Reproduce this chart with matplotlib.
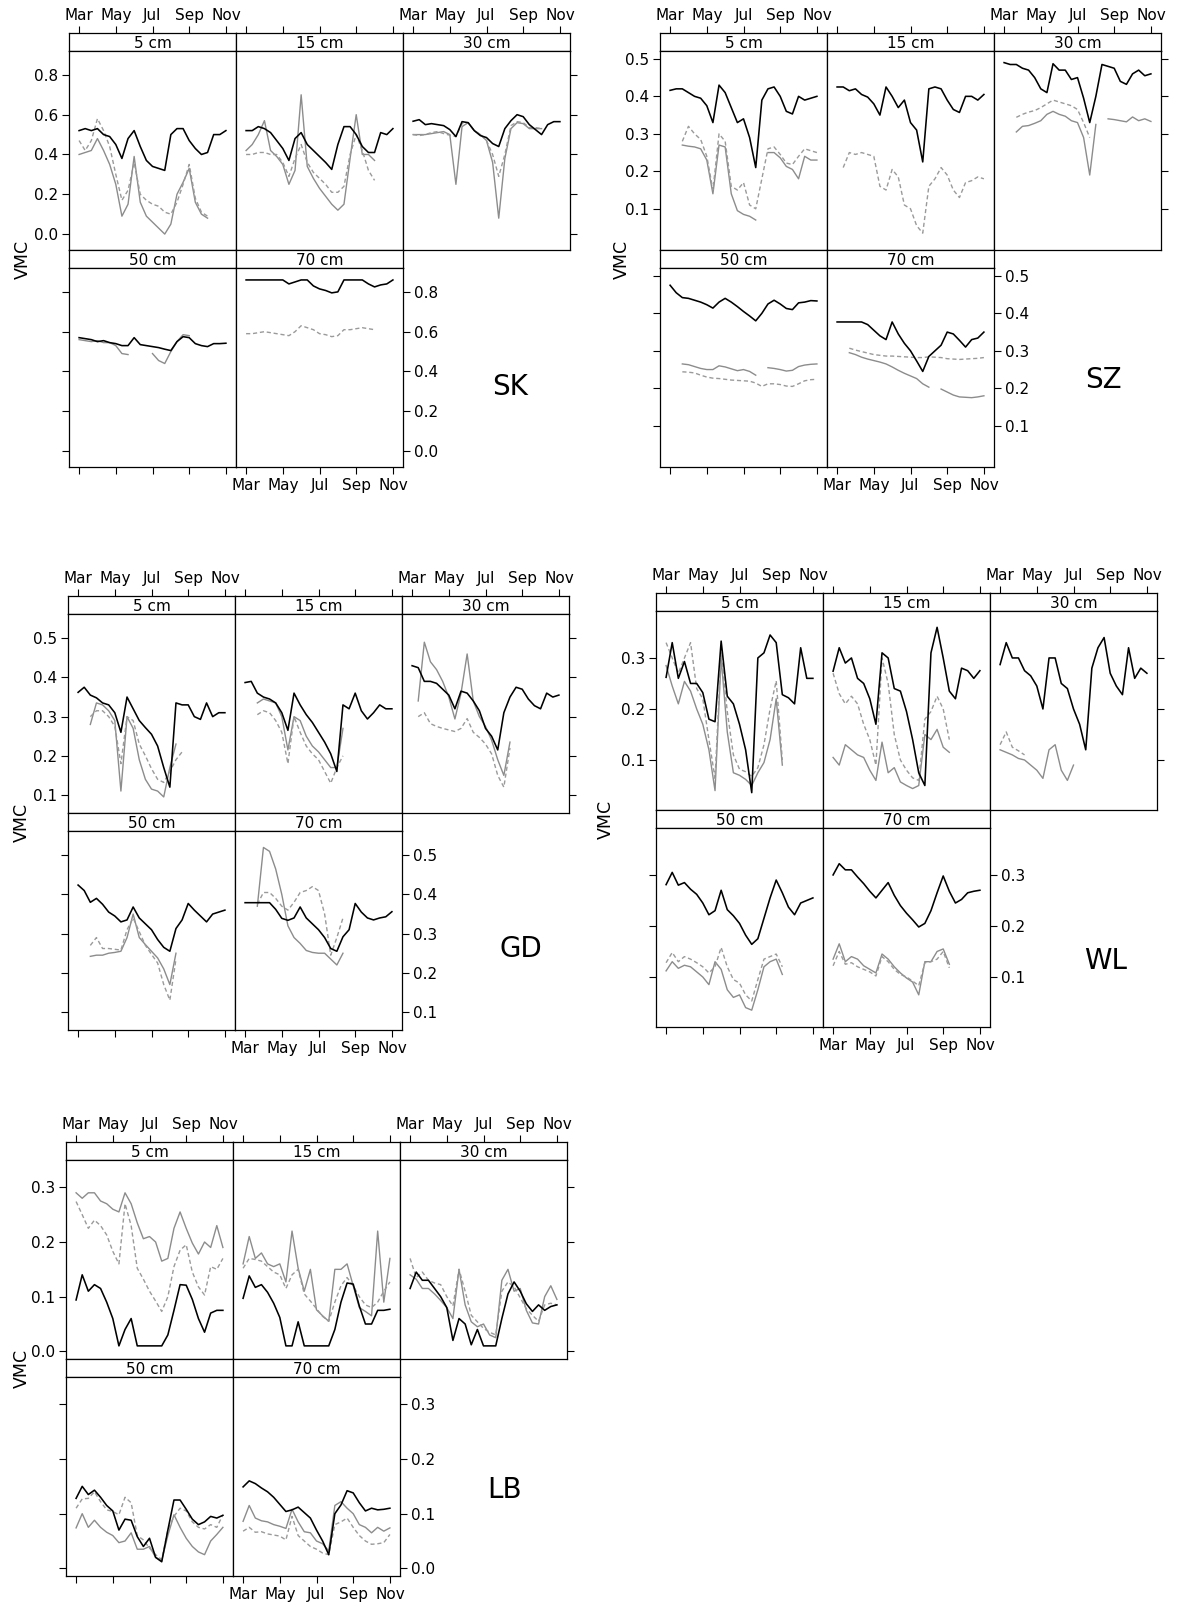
import numpy as np
import matplotlib.pyplot as plt

N = np.nan

# sampling grid: every ~10 days from 1 Mar to 1 Nov (months since 1 Mar)
t = np.arange(25) / 3.0
month_ticks = [0, 2, 4, 6, 8]
month_labels = ['Mar', 'May', 'Jul', 'Sep', 'Nov']
depths = ['5 cm', '15 cm', '30 cm', '50 cm', '70 cm']
sites = ['SK', 'SZ', 'GD', 'WL', 'LB']

# ---- SK ----
sk5_blk = [0.52,0.53,0.52,0.53,0.50, 0.49,0.45,0.38,0.48,0.52, 0.44,0.37,0.34,0.33,0.32, 0.50,0.53,0.53,0.47,0.43, 0.40,0.41,0.50,0.50,0.52]
sk5_gry = [0.40,0.41,0.42,0.48,0.42, 0.35,0.25,0.09,0.15,0.39, 0.16,0.09,0.06,0.03,0.00, 0.05,0.20,0.26,0.33,0.16, 0.10,0.08,N,N,N]
sk5_dsh = [0.47,0.42,0.47,0.58,0.52, 0.44,0.30,0.17,0.22,0.36, 0.20,0.17,0.15,0.14,0.11, 0.10,0.16,0.25,0.35,0.18, 0.11,0.09,N,N,N]
sk15_blk = [0.52,0.52,0.54,0.53,0.51, 0.47,0.43,0.37,0.48,0.51, 0.45,0.42,0.39,0.36,0.325, 0.45,0.54,0.54,0.50,0.44, 0.41,0.41,0.51,0.50,0.53]
sk15_gry = [0.42,0.45,0.50,0.57,0.42, 0.39,0.35,0.25,0.32,0.70, 0.34,0.28,0.23,0.19,0.15, 0.12,0.15,0.38,0.60,0.40, 0.40,0.37,N,N,N]
sk15_dsh = [0.40,0.40,0.41,0.41,0.40, 0.40,0.36,0.29,0.38,0.45, 0.36,0.31,0.28,0.25,0.21, 0.21,0.24,0.40,0.50,0.42, 0.32,0.27,N,N,N]
sk30_blk = [0.567,0.575,0.55,0.555,0.55, 0.545,0.525,0.49,0.565,0.56, 0.52,0.495,0.485,0.455,0.44, 0.53,0.57,0.60,0.59,0.55, 0.525,0.50,0.55,0.565,0.565]
sk30_gry = [0.50,0.50,0.50,0.505,0.51, 0.515,0.50,0.25,0.54,0.56, 0.52,0.50,0.47,0.36,0.08, 0.38,0.53,0.56,0.555,0.53, 0.53,0.53,N,N,N]
sk30_dsh = [0.50,0.495,0.50,0.51,0.515, 0.505,0.497,0.49,0.555,0.56, 0.52,0.50,0.47,0.40,0.29, 0.40,0.545,0.565,0.56,0.535, 0.535,0.53,N,N,N]
sk50_blk = [0.57,0.565,0.56,0.55,0.555, 0.545,0.54,0.53,0.53,0.57, 0.535,0.53,0.525,0.52,0.512, 0.505,0.55,0.575,0.57,0.54, 0.53,0.525,0.54,0.54,0.542]
sk50_gry = [0.56,0.555,0.55,0.555,0.545, 0.545,0.53,0.49,0.485,N, N,N,0.49,0.455,0.44, 0.50,0.55,0.585,0.58,N, N,N,N,N,N]
sk70_blk = [0.86,0.86,0.86,0.86,0.86, 0.86,0.86,0.84,0.85,0.86, 0.86,0.83,0.815,0.807,0.795, 0.80,0.86,0.86,0.86,0.86, 0.84,0.825,0.835,0.84,0.86]
sk70_dsh = [0.59,0.59,0.595,0.60,0.595, 0.59,0.585,0.58,0.60,0.63, 0.62,0.61,0.59,0.585,0.575, 0.58,0.61,0.61,0.615,0.62, 0.615,0.61,N,N,N]

# ---- SZ ----
sz5_blk = [0.416,0.42,0.42,0.41,0.40, 0.395,0.375,0.33,0.43,0.41, 0.37,0.33,0.34,0.29,0.21, 0.39,0.42,0.425,0.40,0.36, 0.353,0.40,0.39,0.395,0.40]
sz5_gry = [N,N,0.27,0.267,0.265, 0.26,0.23,0.14,0.27,0.265, 0.14,0.095,0.085,0.08,0.07, N,0.25,0.25,0.236,0.213, 0.205,0.18,0.24,0.23,0.23]
sz5_dsh = [N,N,0.28,0.32,0.30, 0.285,0.24,0.15,0.30,0.28, 0.16,0.15,0.17,0.11,0.10, 0.18,0.26,0.265,0.245,0.222, 0.218,0.24,0.26,0.255,0.25]
sz15_blk = [0.425,0.425,0.415,0.42,0.405, 0.398,0.38,0.35,0.425,0.40, 0.37,0.39,0.33,0.31,0.225, 0.42,0.425,0.42,0.39,0.365, 0.357,0.40,0.40,0.39,0.405]
sz15_dsh = [N,0.21,0.25,0.245,0.25, 0.245,0.24,0.16,0.15,0.205, 0.185,0.11,0.10,0.055,0.035, 0.16,0.18,0.21,0.19,0.15, 0.13,0.17,0.175,0.185,0.18]
sz30_blk = [0.49,0.485,0.485,0.475,0.47, 0.45,0.42,0.41,0.487,0.47, 0.47,0.445,0.45,0.395,0.33, 0.40,0.485,0.48,0.475,0.44, 0.432,0.46,0.47,0.455,0.46]
sz30_gry = [N,N,0.305,0.32,0.322, 0.328,0.335,0.352,0.36,0.352, 0.347,0.335,0.33,0.29,0.19, 0.325,N,0.34,0.338,0.335, 0.332,0.345,0.335,0.34,0.333]
sz30_dsh = [N,N,0.344,0.352,0.358, 0.362,0.37,0.38,0.39,0.385, 0.38,0.375,0.365,0.33,0.29, N,N,N,N,N, N,N,N,N,N]
sz50_blk = [0.475,0.455,0.442,0.44,0.435, 0.43,0.423,0.414,0.43,0.44, 0.43,0.418,0.405,0.393,0.38, 0.40,0.425,0.435,0.425,0.413, 0.41,0.428,0.43,0.434,0.433]
sz50_gry = [N,N,0.265,0.263,0.258, 0.253,0.25,0.25,0.26,0.257, 0.252,0.247,0.25,0.245,0.235, N,0.255,0.253,0.25,0.246, 0.248,0.258,0.262,0.264,0.265]
sz50_dsh = [N,N,0.244,0.243,0.241, 0.235,0.23,0.227,0.226,0.224, 0.222,0.221,0.22,0.219,0.214, 0.205,0.212,0.212,0.21,0.206, 0.205,0.212,0.22,0.223,0.224]
sz70_blk = [0.377,0.377,0.377,0.377,0.377, 0.37,0.355,0.34,0.33,0.377, 0.345,0.32,0.30,0.273,0.245, 0.285,0.30,0.315,0.35,0.345, 0.328,0.31,0.33,0.334,0.35]
sz70_gry = [N,N,0.295,0.29,0.283, 0.278,0.274,0.27,0.265,0.257, 0.248,0.24,0.233,0.226,0.212, 0.203,N,0.198,0.19,0.182, 0.177,0.176,0.175,0.177,0.18]
sz70_dsh = [N,N,0.307,0.302,0.298, 0.294,0.29,0.288,0.286,0.286, 0.285,0.284,0.283,0.282,0.282, 0.284,0.283,0.282,0.279,0.278, 0.277,0.278,0.279,0.28,0.282]

# ---- GD ----
gd5_blk = [0.362,0.375,0.355,0.348,0.335, 0.33,0.31,0.26,0.35,0.32, 0.29,0.272,0.255,0.225,0.17, 0.12,0.335,0.33,0.33,0.30, 0.293,0.335,0.30,0.31,0.31]
gd5_gry = [N,N,0.28,0.335,0.33, 0.315,0.29,0.11,0.30,0.27, 0.19,0.14,0.115,0.11,0.095, 0.17,0.23,N,N,N, N,N,N,N,N]
gd5_dsh = [N,N,0.30,0.315,0.315, 0.30,0.275,0.18,0.30,0.29, 0.23,0.20,0.167,0.14,0.132, 0.16,0.19,0.21,N,N, N,N,N,N,N]
gd15_blk = [0.387,0.39,0.36,0.35,0.345, 0.335,0.31,0.265,0.36,0.33, 0.305,0.285,0.26,0.235,0.205, 0.16,0.33,0.32,0.36,0.315, 0.294,0.31,0.33,0.32,0.32]
gd15_gry = [N,N,0.335,0.345,0.34, 0.335,0.30,0.215,0.30,0.29, 0.25,0.225,0.21,0.19,0.17, 0.17,0.27,N,N,N, N,N,N,N,N]
gd15_dsh = [N,N,0.305,0.315,0.31, 0.29,0.26,0.18,0.30,0.26, 0.225,0.205,0.19,0.16,0.13, 0.17,0.20,N,N,N, N,N,N,N,N]
gd30_blk = [0.43,0.425,0.39,0.39,0.385, 0.37,0.355,0.32,0.365,0.36, 0.34,0.315,0.27,0.25,0.215, 0.31,0.35,0.375,0.37,0.345, 0.328,0.32,0.36,0.35,0.355]
gd30_gry = [N,0.34,0.49,0.44,0.42, 0.39,0.35,0.294,0.36,0.46, 0.34,0.30,0.275,0.24,0.19, 0.15,0.235,N,N,N, N,N,N,N,N]
gd30_dsh = [N,0.30,0.31,0.282,0.275, 0.27,0.266,0.262,0.27,0.295, 0.26,0.247,0.23,0.205,0.15, 0.12,0.22,N,N,N, N,N,N,N,N]
gd50_blk = [0.424,0.41,0.38,0.39,0.375, 0.355,0.345,0.33,0.335,0.368, 0.34,0.325,0.31,0.285,0.265, 0.255,0.313,0.335,0.377,0.36, 0.345,0.33,0.35,0.355,0.36]
gd50_gry = [N,N,0.242,0.245,0.245, 0.25,0.252,0.255,0.29,0.35, 0.29,0.272,0.255,0.238,0.21, 0.17,0.25,N,N,N, N,N,N,N,N]
gd50_dsh = [N,N,0.27,0.29,0.262, 0.262,0.26,0.258,0.31,0.34, 0.305,0.27,0.247,0.225,0.17, 0.13,0.235,N,N,N, N,N,N,N,N]
gd70_blk = [0.379,0.379,0.379,0.379,0.379, 0.362,0.339,0.334,0.34,0.368, 0.34,0.325,0.31,0.29,0.262, 0.255,0.292,0.31,0.377,0.355, 0.34,0.335,0.34,0.343,0.356]
gd70_gry = [N,N,0.37,0.52,0.51, 0.465,0.40,0.32,0.29,0.275, 0.257,0.252,0.25,0.25,0.235, 0.22,0.25,N,N,N, N,N,N,N,N]
gd70_dsh = [N,N,0.375,0.405,0.405, 0.39,0.37,0.36,0.38,0.405, 0.41,0.42,0.41,0.35,0.245, 0.29,0.34,N,N,N, N,N,N,N,N]

# ---- WL ----
wl5_blk = [0.262,0.33,0.26,0.293,0.25, 0.25,0.232,0.18,0.175,0.333, 0.225,0.21,0.17,0.12,0.036, 0.30,0.31,0.345,0.33,0.228, 0.222,0.21,0.32,0.26,0.26]
wl5_gry = [0.285,0.245,0.21,0.254,0.235, 0.20,0.17,0.12,0.04,0.30, 0.155,0.075,0.07,0.062,0.05, 0.075,0.095,0.14,0.22,0.09, N,N,N,N,N]
wl5_dsh = [0.33,0.30,0.27,0.30,0.33, 0.24,0.22,0.14,0.064,0.31, 0.195,0.11,0.082,0.077,0.068, 0.085,0.13,0.20,0.255,0.10, N,N,N,N,N]
wl15_blk = [0.274,0.32,0.29,0.30,0.26, 0.25,0.22,0.17,0.31,0.30, 0.24,0.235,0.195,0.14,0.075, 0.05,0.31,0.36,0.30,0.235, 0.22,0.28,0.275,0.26,0.275]
wl15_gry = [0.105,0.09,0.13,0.12,0.11, 0.105,0.08,0.06,0.135,0.075, 0.085,0.057,0.05,0.044,0.05, 0.15,0.14,0.16,0.125,0.115, N,N,N,N,N]
wl15_dsh = [0.27,0.23,0.21,0.225,0.21, 0.17,0.14,0.09,0.30,0.25, 0.15,0.10,0.08,0.065,0.06, 0.18,0.195,0.225,0.20,0.14, N,N,N,N,N]
wl30_blk = [0.287,0.33,0.30,0.30,0.275, 0.265,0.245,0.20,0.30,0.30, 0.25,0.24,0.20,0.17,0.12, 0.28,0.32,0.34,0.27,0.245, 0.228,0.32,0.26,0.28,0.27]
wl30_gry = [0.12,0.115,0.11,0.103,0.10, 0.09,0.08,0.064,0.12,0.13, 0.08,0.06,0.09,N,N, N,N,N,N,N, N,N,N,N,N]
wl30_dsh = [0.13,0.155,0.125,0.118,0.11, N,N,N,N,N, N,N,N,N,N, N,N,N,N,N, N,N,N,N,N]
wl50_blk = [0.281,0.305,0.28,0.285,0.272, 0.262,0.245,0.222,0.23,0.27, 0.232,0.22,0.205,0.182,0.164, 0.175,0.215,0.255,0.29,0.265, 0.237,0.222,0.245,0.25,0.255]
wl50_gry = [0.112,0.13,0.117,0.123,0.12, 0.11,0.10,0.085,0.13,0.115, 0.075,0.06,0.065,0.04,0.035, 0.075,0.12,0.13,0.135,0.105, N,N,N,N,N]
wl50_dsh = [0.128,0.148,0.13,0.14,0.135, 0.128,0.12,0.108,0.12,0.158, 0.12,0.095,0.088,0.065,0.053, 0.095,0.135,0.14,0.145,0.12, N,N,N,N,N]
wl70_blk = [0.30,0.322,0.31,0.31,0.296, 0.283,0.268,0.255,0.27,0.285, 0.26,0.24,0.225,0.212,0.198, 0.205,0.23,0.265,0.298,0.268, 0.245,0.252,0.265,0.268,0.27]
wl70_gry = [0.135,0.165,0.13,0.14,0.135, 0.122,0.115,0.108,0.145,0.135, 0.12,0.108,0.098,0.09,0.065, 0.13,0.13,0.15,0.155,0.125, N,N,N,N,N]
wl70_dsh = [0.122,0.15,0.125,0.128,0.12, 0.115,0.11,0.102,0.14,0.13, 0.115,0.105,0.10,0.092,0.083, 0.128,0.13,0.135,0.15,0.118, N,N,N,N,N]

# ---- LB ----
lb5_blk = [0.094,0.14,0.11,0.122,0.115, 0.09,0.06,0.01,0.04,0.06, 0.01,0.01,0.01,0.01,0.01, 0.03,0.075,0.122,0.121,0.095, 0.06,0.035,0.07,0.075,0.075]
lb5_gry = [0.29,0.28,0.29,0.29,0.275, 0.27,0.26,0.255,0.29,0.27, 0.235,0.206,0.21,0.20,0.165, 0.17,0.225,0.255,0.225,0.198, 0.178,0.20,0.19,0.23,0.19]
lb5_dsh = [0.274,0.25,0.225,0.24,0.23, 0.213,0.183,0.16,0.27,0.23, 0.152,0.132,0.11,0.092,0.073, 0.10,0.155,0.185,0.195,0.145, 0.118,0.103,0.155,0.15,0.17]
lb15_blk = [0.097,0.138,0.117,0.122,0.108, 0.088,0.062,0.01,0.01,0.054, 0.01,0.01,0.01,0.01,0.01, 0.04,0.09,0.125,0.123,0.083, 0.05,0.05,0.075,0.075,0.077]
lb15_gry = [0.16,0.21,0.17,0.18,0.16, 0.155,0.16,0.127,0.22,0.152, 0.11,0.15,0.076,0.065,0.055, 0.15,0.15,0.16,0.12,0.08, 0.073,0.065,0.22,0.09,0.17]
lb15_dsh = [0.152,0.17,0.168,0.165,0.155, 0.145,0.14,0.115,0.14,0.15, 0.105,0.092,0.078,0.064,0.055, 0.09,0.12,0.135,0.12,0.10, 0.085,0.08,0.09,0.11,0.127]
lb30_blk = [0.115,0.145,0.13,0.13,0.115, 0.10,0.08,0.02,0.06,0.05, 0.012,0.04,0.01,0.01,0.01, 0.06,0.105,0.127,0.11,0.087, 0.073,0.085,0.075,0.082,0.085]
lb30_gry = [0.14,0.132,0.115,0.115,0.105, 0.093,0.08,0.06,0.15,0.085, 0.054,0.045,0.05,0.03,0.025, 0.13,0.15,0.11,0.115,0.075, 0.052,0.05,0.10,0.12,0.095]
lb30_dsh = [0.17,0.135,0.145,0.13,0.125, 0.122,0.10,0.083,0.15,0.11, 0.066,0.054,0.042,0.035,0.03, 0.11,0.127,0.118,0.098,0.078, 0.066,0.055,0.085,0.088,0.085]
lb50_blk = [0.128,0.15,0.135,0.143,0.13, 0.115,0.105,0.07,0.09,0.088, 0.058,0.04,0.055,0.02,0.012, 0.07,0.125,0.125,0.108,0.09, 0.08,0.085,0.095,0.092,0.097]
lb50_gry = [0.074,0.10,0.075,0.088,0.075, 0.066,0.06,0.047,0.05,0.065, 0.035,0.035,0.04,0.02,0.015, 0.06,0.098,0.075,0.055,0.04, 0.03,0.025,0.05,0.062,0.075]
lb50_dsh = [0.11,0.127,0.128,0.14,0.122, 0.107,0.104,0.098,0.13,0.12, 0.06,0.052,0.037,0.025,0.016, 0.07,0.095,0.11,0.105,0.085, 0.075,0.072,0.08,0.075,0.098]
lb70_blk = [0.149,0.16,0.155,0.147,0.14, 0.13,0.117,0.104,0.107,0.112, 0.102,0.092,0.07,0.05,0.025, 0.10,0.116,0.142,0.138,0.12, 0.105,0.11,0.107,0.108,0.11]
lb70_gry = [0.086,0.115,0.092,0.087,0.085, 0.08,0.077,0.073,0.108,0.085, 0.067,0.065,0.05,0.045,0.032, 0.115,0.122,0.11,0.10,0.08, 0.075,0.065,0.075,0.068,0.074]
lb70_dsh = [0.068,0.075,0.066,0.067,0.063, 0.061,0.059,0.052,0.095,0.06, 0.05,0.04,0.035,0.028,0.025, 0.08,0.085,0.092,0.075,0.06, 0.05,0.044,0.045,0.047,0.062]

# per site: one (black, gray, dashed) triple per depth
series = {
    'SK': [(sk5_blk, sk5_gry, sk5_dsh), (sk15_blk, sk15_gry, sk15_dsh), (sk30_blk, sk30_gry, sk30_dsh),
           (sk50_blk, sk50_gry, None), (sk70_blk, None, sk70_dsh)],
    'SZ': [(sz5_blk, sz5_gry, sz5_dsh), (sz15_blk, None, sz15_dsh), (sz30_blk, sz30_gry, sz30_dsh),
           (sz50_blk, sz50_gry, sz50_dsh), (sz70_blk, sz70_gry, sz70_dsh)],
    'GD': [(gd5_blk, gd5_gry, gd5_dsh), (gd15_blk, gd15_gry, gd15_dsh), (gd30_blk, gd30_gry, gd30_dsh),
           (gd50_blk, gd50_gry, gd50_dsh), (gd70_blk, gd70_gry, gd70_dsh)],
    'WL': [(wl5_blk, wl5_gry, wl5_dsh), (wl15_blk, wl15_gry, wl15_dsh), (wl30_blk, wl30_gry, wl30_dsh),
           (wl50_blk, wl50_gry, wl50_dsh), (wl70_blk, wl70_gry, wl70_dsh)],
    'LB': [(lb5_blk, lb5_gry, lb5_dsh), (lb15_blk, lb15_gry, lb15_dsh), (lb30_blk, lb30_gry, lb30_dsh),
           (lb50_blk, lb50_gry, lb50_dsh), (lb70_blk, lb70_gry, lb70_dsh)],
}
yticks = {
    'SK': [0.0, 0.2, 0.4, 0.6, 0.8],
    'SZ': [0.1, 0.2, 0.3, 0.4, 0.5],
    'GD': [0.1, 0.2, 0.3, 0.4, 0.5],
    'WL': [0.1, 0.2, 0.3],
    'LB': [0.0, 0.1, 0.2, 0.3],
}
ylims = {'SK': (-0.08, 0.92), 'SZ': (-0.01, 0.521), 'GD': (0.054, 0.562),
         'WL': (0.002, 0.392), 'LB': (-0.014, 0.35)}

# layout in pixels
FW, FH = 1180, 1609
PW, PH, SH = 167, 199, 18
group_pos = {'SK': (69, 33), 'SZ': (660, 33), 'GD': (68, 596), 'WL': (656, 593), 'LB': (66, 1142)}
vmc_x = {'SK': 23, 'SZ': 622, 'GD': 22, 'WL': 606, 'LB': 22}
label_pos = {'SK': (510, 387), 'SZ': (1103, 380), 'GD': (521, 949), 'WL': (1106, 961), 'LB': (505, 1490)}
xlim = (-0.55, 8.55)
FS = 11

plt.rcParams['font.family'] = ['DejaVu Sans']
fig = plt.figure(figsize=(FW / 100, FH / 100), dpi=100)


def rect(x, y, w, h):
    return [x / FW, 1 - (y + h) / FH, w / FW, h / FH]


for site in sites:
    gx, gy = group_pos[site]
    for i, depth in enumerate(depths):
        row, col = divmod(i, 3)
        x0 = gx + col * PW
        ys = gy + row * (SH + PH)

        sax = fig.add_axes(rect(x0, ys, PW, SH))
        sax.set_xlim(xlim)
        sax.set_ylim(0, 1)
        sax.set_yticks([])
        sax.text(0.5, 0.42, depth, transform=sax.transAxes, ha='center', va='center', fontsize=FS)
        if row == 0:
            sax.set_xticks(month_ticks)
            sax.set_xticklabels(month_labels)
            sax.tick_params(axis='x', top=True, bottom=False, labeltop=(col != 1), labelbottom=False,
                            direction='out', length=5, width=0.8, pad=2, labelsize=FS)
        else:
            sax.set_xticks([])

        ax = fig.add_axes(rect(x0, ys + SH, PW, PH))
        ax.set_xlim(xlim)
        ax.set_ylim(ylims[site])
        blk, gry, dsh = series[site][i]
        if gry is not None:
            ax.plot(t, np.array(gry, dtype=float), color='#8c8c8c', lw=1.0)
        if dsh is not None:
            ax.plot(t, np.array(dsh, dtype=float), color='#9a9a9a', lw=1.0, dashes=(3, 2))
        ax.plot(t, np.array(blk, dtype=float), color='black', lw=1.15)

        if row == 1:
            ax.set_xticks(month_ticks)
            ax.set_xticklabels(month_labels)
            ax.tick_params(axis='x', bottom=True, top=False, labelbottom=(col == 1), labeltop=False,
                           direction='out', length=5, width=0.8, pad=3, labelsize=FS)
        else:
            ax.set_xticks([])
        ax.set_yticks(yticks[site])
        ax.set_yticklabels(['%.1f' % v for v in yticks[site]])
        ax.tick_params(axis='y', left=(col == 0), right=(row == 0 and col == 2) or (row == 1 and col == 1),
                       labelleft=(row == 0 and col == 0), labelright=(row == 1 and col == 1),
                       direction='out', length=5, width=0.8, pad=3, labelsize=FS)
        for a in (sax, ax):
            for s in a.spines.values():
                s.set_linewidth(0.9)

    fig.text(vmc_x[site] / FW, 1 - (gy + SH + PH + SH / 2) / FH, 'VMC', rotation=90,
             ha='center', va='center', fontsize=12.5)
    lx, ly = label_pos[site]
    fig.text(lx / FW, 1 - ly / FH, site, ha='center', va='center', fontsize=20)

fig.savefig('out.png', dpi=100, facecolor='white')
